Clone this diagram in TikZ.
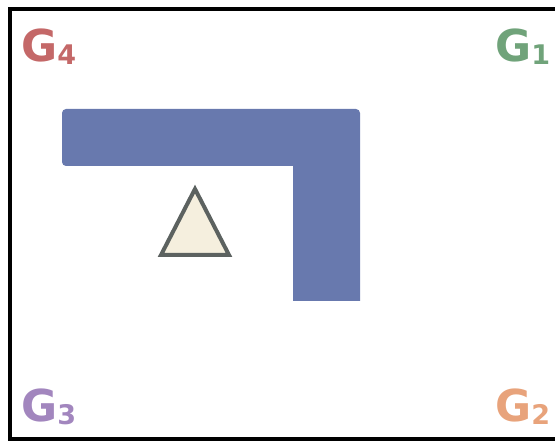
\documentclass[tikz,border=0pt]{standalone}
\usepackage{fontspec}
\setmainfont{DejaVu Sans}
\usetikzlibrary{positioning}
\definecolor{wallblue}{RGB}{104,121,174}
\definecolor{agentfill}{RGB}{245,239,222}
\definecolor{agentline}{RGB}{92,98,96}
\definecolor{goalred}{RGB}{196,104,104}
\definecolor{goalgreen}{RGB}{112,163,122}
\definecolor{goalpurple}{RGB}{162,134,190}
\definecolor{goalorange}{RGB}{232,163,123}
\newcommand{\goallabel}[1]{\fontsize{44}{44}\selectfont\bfseries G\raisebox{-3pt}{\fontsize{27}{27}\selectfont #1}}
\tikzset{
  goal/.style={inner sep=0pt, anchor=base west},
  wall/.style={fill=wallblue, rounded corners=4pt},
  agent/.style={fill=agentfill, draw=agentline, line width=4pt, line join=miter}
}
\begin{document}
\begin{tikzpicture}[x=1pt, y=-1pt]
  \useasboundingbox (0,0) rectangle (555,443);

  % frame (right side runs off the picture)
  \draw[line width=4.5pt] (10,9) rectangle (565,439);

  % goals in the corners
  \node[goal, text=goalred]    (g4) at (21,62)  {\goallabel{4}};
  \node[goal, text=goalgreen]  (g1) at (495,62) {\goallabel{1}};
  \node[goal, text=goalpurple] (g3) at (21,422) {\goallabel{3}};
  \node[goal, text=goalorange] (g2) at (495,422) {\goallabel{2}};

  % L-shaped wall
  \fill[wall] (293,166) -- (62,166) -- (62,109) -- (360,109)
    [sharp corners] -- (360,301) -- (293,301) -- cycle;

  % agent
  \filldraw[agent] (195,189) -- (229,255) -- (161,255) -- cycle;
\end{tikzpicture}
\end{document}
